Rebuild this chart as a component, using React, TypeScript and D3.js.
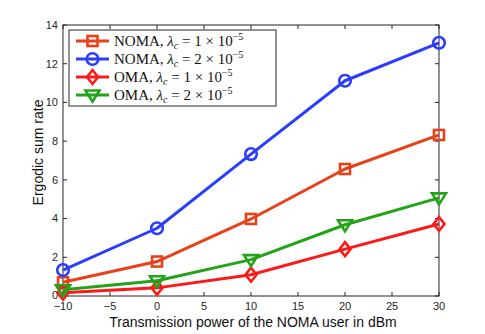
import { useRef, useEffect } from 'react';
import * as d3 from 'd3';

const powers = [-10, 0, 10, 20, 30];
const nomaLow = [0.71, 1.78, 3.98, 6.56, 8.32];
const nomaHigh = [1.34, 3.5, 7.33, 11.12, 13.08];
const omaLow = [0.17, 0.42, 1.1, 2.42, 3.72];
const omaHigh = [0.32, 0.79, 1.88, 3.68, 5.07];

const xTicks = [-10, -5, 0, 5, 10, 15, 20, 25, 30];
const yTicks = [0, 2, 4, 6, 8, 10, 12, 14];

const series = [
  { name: 'NOMA', lambda: '1', values: nomaLow, color: '#e8411a', marker: 'square' },
  { name: 'NOMA', lambda: '2', values: nomaHigh, color: '#2a3dfb', marker: 'circle' },
  { name: 'OMA', lambda: '1', values: omaLow, color: '#fb1a1a', marker: 'diamond' },
  { name: 'OMA', lambda: '2', values: omaHigh, color: '#24a21a', marker: 'triangle' },
];

type Sel = d3.Selection<SVGGElement, unknown, null, undefined>;

function drawMarker(g: Sel, kind: string, cx: number, cy: number, color: string) {
  const common = (s: any) => s.attr('fill', 'none').attr('stroke', color).attr('stroke-width', 2.6);
  if (kind === 'square') {
    common(g.append('rect').attr('x', cx - 5).attr('y', cy - 5).attr('width', 10).attr('height', 10));
  } else if (kind === 'circle') {
    common(g.append('circle').attr('cx', cx).attr('cy', cy).attr('r', 5.8));
  } else if (kind === 'diamond') {
    common(g.append('path').attr('d', `M${cx},${cy - 7}L${cx + 5.5},${cy}L${cx},${cy + 7}L${cx - 5.5},${cy}Z`));
  } else {
    common(g.append('path').attr('d', `M${cx - 7},${cy - 4.5}L${cx + 7},${cy - 4.5}L${cx},${cy + 6.5}Z`));
  }
}

export default function App() {
  const svgRef = useRef<SVGSVGElement>(null);

  useEffect(() => {
    if (!svgRef.current) return;
    const width = 485;
    const height = 334;
    const margin = { top: 25, right: 46, bottom: 38, left: 63 };

    const svg = d3.select(svgRef.current);
    svg.selectAll('*').remove();
    svg.attr('width', width).attr('height', height);

    const x = d3.scaleLinear().domain([-10, 30]).range([margin.left, width - margin.right]);
    const y = d3.scaleLinear().domain([0, 14]).range([height - margin.bottom, margin.top]);

    const axisColor = '#262626';
    const sans = 'Liberation Sans, Arial, sans-serif';
    const root = svg.append('g') as unknown as Sel;

    // frame
    root.append('rect')
      .attr('x', x(-10)).attr('y', y(14))
      .attr('width', x(30) - x(-10)).attr('height', y(0) - y(14))
      .attr('fill', 'white').attr('stroke', axisColor).attr('stroke-width', 1);

    // ticks (inside, all sides)
    const tl = 4;
    xTicks.forEach(t => {
      root.append('line').attr('x1', x(t)).attr('x2', x(t)).attr('y1', y(0)).attr('y2', y(0) - tl)
        .attr('stroke', axisColor);
      root.append('line').attr('x1', x(t)).attr('x2', x(t)).attr('y1', y(14)).attr('y2', y(14) + tl)
        .attr('stroke', axisColor);
      root.append('text').attr('x', x(t)).attr('y', y(0) + 14)
        .attr('text-anchor', 'middle').attr('font-size', '11px')
        .attr('font-family', sans).attr('fill', axisColor)
        .text(t < 0 ? `\u2212${-t}` : `${t}`);
    });
    yTicks.forEach(t => {
      root.append('line').attr('x1', x(-10)).attr('x2', x(-10) + tl).attr('y1', y(t)).attr('y2', y(t))
        .attr('stroke', axisColor);
      root.append('line').attr('x1', x(30)).attr('x2', x(30) - tl).attr('y1', y(t)).attr('y2', y(t))
        .attr('stroke', axisColor);
      root.append('text').attr('x', x(-10) - 5).attr('y', y(t) - (t === 0 ? 1 : 0)).attr('dy', '0.35em')
        .attr('text-anchor', 'end').attr('font-size', '11px')
        .attr('font-family', sans).attr('fill', axisColor)
        .text(`${t}`);
    });

    // axis labels
    root.append('text').attr('x', (x(-10) + x(30)) / 2 + 2).attr('y', y(0) + 31)
      .attr('text-anchor', 'middle').attr('font-size', '14px')
      .attr('font-family', sans).attr('fill', '#111')
      .text('Transmission power of the NOMA user in dBm');
    root.append('text')
      .attr('transform', `translate(${x(-10) - 20},${(y(0) + y(14)) / 2 - 8}) rotate(-90)`)
      .attr('text-anchor', 'middle').attr('font-size', '14px')
      .attr('font-family', sans).attr('fill', '#111')
      .text('Ergodic sum rate');

    // lines + markers
    const line = d3.line<number>().x((_, i) => x(powers[i])).y(d => y(d));
    series.forEach(s => {
      root.append('path').datum(s.values).attr('d', line)
        .attr('fill', 'none').attr('stroke', s.color).attr('stroke-width', 3)
        .attr('stroke-linejoin', 'round');
      s.values.forEach((v, i) => drawMarker(root, s.marker, x(powers[i]), y(v), s.color));
    });

    // legend
    const lg = root.append('g') as unknown as Sel;
    lg.append('rect').attr('x', 69).attr('y', 30).attr('width', 207).attr('height', 76)
      .attr('fill', 'white').attr('stroke', axisColor).attr('stroke-width', 1);
    series.forEach((s, i) => {
      const cy = 41 + i * 18;
      lg.append('line').attr('x1', 76).attr('x2', 109).attr('y1', cy).attr('y2', cy)
        .attr('stroke', s.color).attr('stroke-width', 3);
      drawMarker(lg, s.marker, 92.5, cy, s.color);
      const t = lg.append('text').attr('x', 114).attr('y', cy + 5)
        .attr('font-size', '15px').attr('font-family', 'Liberation Serif, Times New Roman, serif')
        .attr('fill', '#111');
      t.append('tspan').text(`${s.name}, `);
      t.append('tspan').attr('font-style', 'italic').text('\u03bb');
      t.append('tspan').attr('font-style', 'italic').attr('font-size', '10px').attr('dy', 3).text('c');
      t.append('tspan').attr('dy', -3).text(` = ${s.lambda} \u00d7 10`);
      t.append('tspan').attr('font-size', '10px').attr('dy', -6).text('\u22125');
    });
  }, []);

  return (
    <div style={{ position: 'absolute', left: 0, top: 0, width: 485, height: 334, background: 'white' }}>
      <svg ref={svgRef} style={{ display: 'block' }} />
    </div>
  );
}
